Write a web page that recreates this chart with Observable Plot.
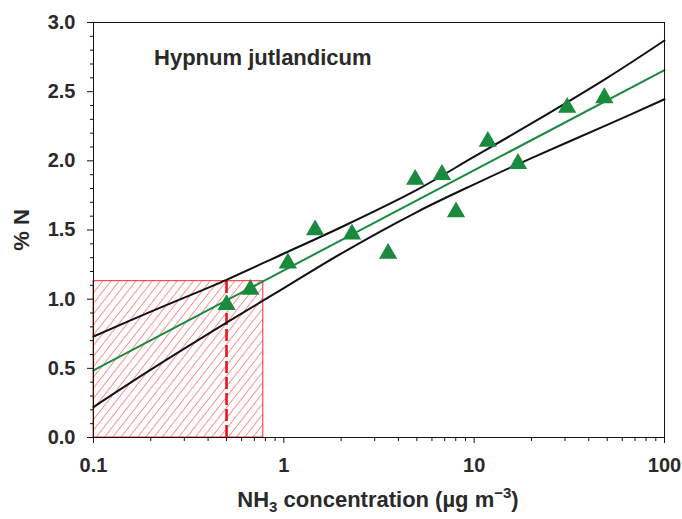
<!DOCTYPE html>
<html>
<head>
<meta charset="utf-8">
<script src="https://cdn.jsdelivr.net/npm/d3@7"></script>
<script src="https://cdn.jsdelivr.net/npm/@observablehq/plot@0.6"></script>
<style>
  html, body { margin: 0; padding: 0; background: #fff; }
  #chart { width: 682px; height: 519px; }
</style>
</head>
<body>
<div id="chart"></div>
<script>
// Observed points (NH3 concentration, % N)
const concNH3 = [0.50, 0.667, 1.05, 1.46, 2.28, 3.53, 4.9, 6.77, 8.03, 11.8, 17.0, 30.8, 48.3];
const pctN    = [0.96, 1.07, 1.26, 1.50, 1.47, 1.33, 1.865, 1.90, 1.63, 2.14, 1.98, 2.385, 2.455];

// Regression line (straight on log axis) end points
const fitX = [0.1, 100];
const fitY = [0.485, 2.655];

// Confidence band
const bandX     = [0.1, 0.2, 0.5, 1, 2, 5, 10, 20, 50, 100];
const bandUpper = [0.73, 0.91, 1.14, 1.33, 1.52, 1.79, 2.03, 2.27, 2.60, 2.87];
const bandLower = [0.22, 0.49, 0.83, 1.08, 1.33, 1.63, 1.83, 2.02, 2.26, 2.445];

// Hatched region and critical level
const boxX = [0.1, 0.78];
const boxY = [0, 1.13];
const criticalX = [0.5];

// Ticks
const xTicks = [0.1, 1, 10, 100];
const xMinor = [0.2,0.3,0.4,0.5,0.6,0.7,0.8,0.9,2,3,4,5,6,7,8,9,20,30,40,50,60,70,80,90];
const yTicks = [0, 0.5, 1.0, 1.5, 2.0, 2.5, 3.0];
const yMinor = [0.1,0.2,0.3,0.4,0.6,0.7,0.8,0.9,1.1,1.2,1.3,1.4,1.6,1.7,1.8,1.9,2.1,2.2,2.3,2.4,2.6,2.7,2.8,2.9];

const titleText = "Hypnum jutlandicum";
const titlePos = [{label: titleText, x: 0.208, y: 2.745}];

const green = "#1a8a3e";
const red = "#ff2a2a";
const ink = "#2a2a2a";

const points = concNH3.map((x, i) => ({x, y: pctN[i]}));
const fit = fitX.map((x, i) => ({x, y: fitY[i]}));
const upper = bandX.map((x, i) => ({x, y: bandUpper[i]}));
const lower = bandX.map((x, i) => ({x, y: bandLower[i]}));
const box = [{x1: boxX[0], x2: boxX[1], y1: boxY[0], y2: boxY[1]}];

const chart = Plot.plot({
  width: 682,
  height: 519,
  marginLeft: 93,
  marginRight: 18,
  marginTop: 22,
  marginBottom: 82,
  x: {type: "log", domain: [0.1, 100]},
  y: {domain: [0, 3]},
  style: {fontFamily: "'Liberation Sans', Arial, sans-serif", background: "#fff", color: ink},
  marks: [
    Plot.rect(box, {x1: "x1", x2: "x2", y1: "y1", y2: "y2", fill: "url(#hatch)", stroke: red, strokeWidth: 1}),
    Plot.ruleX(criticalX, {y1: boxY[0], y2: boxY[1], stroke: "#e8161a", strokeWidth: 2.6, strokeDasharray: "12,4"}),
    Plot.line(upper, {x: "x", y: "y", stroke: "#111", strokeWidth: 2, curve: "catmull-rom"}),
    Plot.line(lower, {x: "x", y: "y", stroke: "#111", strokeWidth: 2, curve: "catmull-rom"}),
    Plot.line(fit, {x: "x", y: "y", stroke: green, strokeWidth: 2}),
    Plot.dot(points, {x: "x", y: "y", symbol: "triangle", r: 6.8, fill: green, stroke: "none"}),
    Plot.text(titlePos, {x: "x", y: "y", text: "label", textAnchor: "start", fontSize: 22, fontWeight: "bold", fill: ink}),
    Plot.frame({stroke: "#111", strokeWidth: 1}),
    Plot.axisY({ticks: yTicks, tickFormat: d => d.toFixed(1), tickSize: 6, tickPadding: 12, fontSize: 20, fontWeight: "bold",
      label: "% N", labelAnchor: "center", labelArrow: "none", labelOffset: 80, stroke: "#111"}),
    Plot.axisY({ticks: yMinor, tickFormat: () => "", tickSize: 3, label: null, stroke: "#111"}),
    Plot.axisX({ticks: xTicks, tickFormat: d => String(d), tickSize: 6, tickPadding: 14, fontSize: 20, fontWeight: "bold",
      label: null, stroke: "#111"}),
    Plot.axisX({ticks: xMinor, tickFormat: () => "", tickSize: 4, label: null, stroke: "#111"})
  ]
});

const svg = d3.select(chart);
const defs = svg.insert("defs", ":first-child");
const pat = defs.append("pattern")
  .attr("id", "hatch")
  .attr("patternUnits", "userSpaceOnUse")
  .attr("width", 6.5)
  .attr("height", 6.5)
  .attr("patternTransform", "rotate(38)");
pat.append("rect").attr("width", 6.5).attr("height", 6.5).attr("fill", "#fff");
pat.append("line").attr("x1", 0).attr("y1", 0).attr("x2", 0).attr("y2", 6.5)
  .attr("stroke", "#ff3b3b").attr("stroke-width", 1.1);

// y label styling
svg.selectAll("g[aria-label='y-axis label'] text").attr("font-size", 22).attr("font-weight", "bold");

// x-axis label with subscript / superscript
const xl = svg.append("text")
  .attr("x", 378)
  .attr("y", 507)
  .attr("text-anchor", "middle")
  .attr("font-size", 22)
  .attr("font-weight", "bold")
  .attr("fill", ink)
  .attr("font-family", "'Liberation Sans', Arial, sans-serif");
xl.append("tspan").text("NH");
xl.append("tspan").attr("font-size", 15).attr("dy", 5).text("3");
xl.append("tspan").attr("dy", -5).text(" concentration (µg m");
xl.append("tspan").attr("font-size", 15).attr("dy", -9).text("−3");
xl.append("tspan").attr("dy", 9).text(")");

document.getElementById("chart").appendChild(chart);
</script>
</body>
</html>
